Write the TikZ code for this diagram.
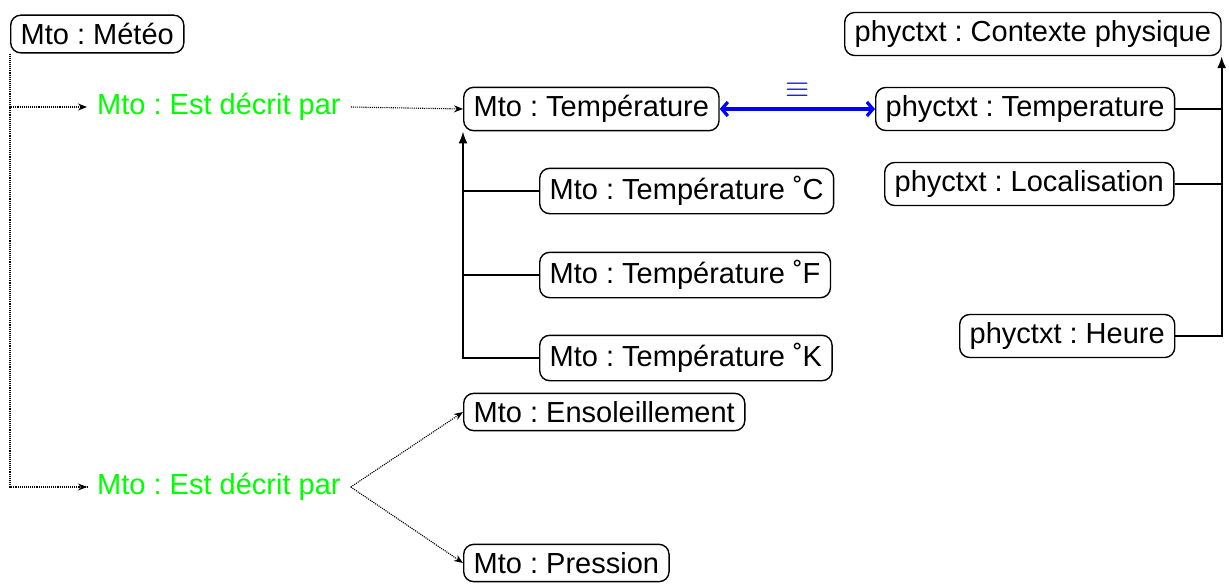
\documentclass[tikz,border=0pt]{standalone}
\usepackage{graphicx}
\usepackage{fontspec}
\setmainfont{Liberation Sans}
\usetikzlibrary{arrows.meta}
\definecolor{grn}{RGB}{0,255,0}
\definecolor{blu}{RGB}{0,0,255}
\begin{document}
\frenchspacing
\begin{tikzpicture}[x=1pt,y=-1pt,
  every node/.style={font=\fontsize{29}{34}\selectfont},
  concept/.style={draw, line width=1.4pt, rounded corners=10pt, inner xsep=10pt, inner ysep=8pt, anchor=west},
  rel/.style={text=grn, inner xsep=10pt, inner ysep=4pt, anchor=west},
  dotarrow/.style={densely dotted, line width=1.1pt, -{Stealth[length=9pt,width=7pt]}},
  dotline/.style={densely dotted, line width=1.1pt},
  isa/.style={line width=2pt},
  isaarrow/.style={line width=2pt, -{Latex[length=12pt,width=9pt]}},
  equiv/.style={line width=3.2pt, blu, {Straight Barb[length=6pt,width=14pt]}-{Straight Barb[length=6pt,width=14pt]}}
]
\useasboundingbox (0,0) rectangle (1229,584);

\node[concept] (meteo) at (10,34) {Mto : Météo};
\node[rel] (g1) at (87,107) {Mto : Est décrit par};
\node[rel] (g2) at (87,487) {Mto : Est décrit par};
\node[concept] (tempm) at (463,109) {Mto : Température};
\node[concept] (tc) at (539,191) {Mto : Température ˚C};
\node[concept] (tf) at (539,275) {Mto : Température ˚F};
\node[concept] (tk) at (539,358) {Mto : Température ˚K};
\node[concept] (enso) at (463,412) {Mto : Ensoleillement};
\node[concept] (pres) at (463,563) {Mto : Pression};
\node[concept] (ctx) at (844,34) {phyctxt : Contexte physique};
\node[concept] (tempp) at (875,109) {phyctxt : Temperature};
\node[concept] (loc) at (884,184) {phyctxt : Localisation};
\node[concept] (heure) at (959,336) {phyctxt : Heure};

% dotted relations
\draw[dotline] (meteo.south west) |- (g2.west);
\draw[dotarrow] (meteo.south west) |- (g1.west);
\draw[dotarrow] ([xshift=-2pt]g2.west) -- (g2.west);
\draw[dotarrow] (g1.east) -- (tempm.west);
\draw[dotarrow] (g2.east) -- (enso.west);
\draw[dotarrow] (g2.east) -- (pres.west);

% subclass tree Mto
\draw[isaarrow] (tk.west) -| (tempm.south west);
\draw[isa] (tc.west) -- (tc.west -| tempm.south west);
\draw[isa] (tf.west) -- (tf.west -| tempm.south west);

% subclass tree phyctxt
\draw[isaarrow] (heure.east) -| (ctx.south east);
\draw[isa] (tempp.east) -- (tempp.east -| ctx.south east);
\draw[isa] (loc.east) -- (loc.east -| ctx.south east);

% equivalence
\draw[equiv] (tempm.east) -- node[text=blu, font=\fontsize{24}{28}\selectfont, inner sep=0pt, yshift=19pt] (eq) {\scalebox{1.25}{$\equiv$}} (tempp.west);
\end{tikzpicture}
\end{document}
